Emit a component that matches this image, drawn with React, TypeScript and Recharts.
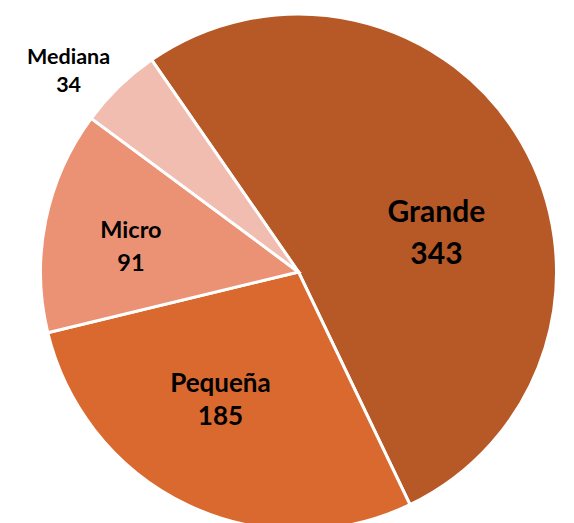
import { PieChart, Pie, Cell } from 'recharts';

const categories = ['Grande', 'Pequeña', 'Micro', 'Mediana'];
const values = [343, 185, 91, 34];
const colors = ['#B75927', '#D9692F', '#EC9274', '#F2BDB1'];
// label placement: polar position of the label block (px from center, deg), font size, line gap
const labelRadius = [143.5, 149, 169.5, 306];
const labelAngle = [16.0, -121.6, 171.3, 138.7];
const labelFont = [30, 26, 23.5, 21.5];
const labelGap = [41.5, 33.5, 33, 28];

const data = categories.map((name, i) => ({ name, value: values[i] }));

const RAD = Math.PI / 180;

const renderLabel = (props: any) => {
  const { cx, cy, index } = props;
  const r = labelRadius[index];
  const a = labelAngle[index] * RAD;
  const x = cx + r * Math.cos(a);
  const y = cy - r * Math.sin(a);
  const fs = labelFont[index];
  const gap = labelGap[index];
  const cap = fs * 0.72;
  const b1 = y - gap / 2 + cap / 2;
  return (
    <text
      textAnchor="middle"
      fontFamily="Lato, 'Open Sans', sans-serif"
      fontWeight={700}
      fontSize={fs}
      fill="#000"
    >
      <tspan x={x} y={b1}>{categories[index]}</tspan>
      <tspan x={x} y={b1 + gap}>{values[index]}</tspan>
    </text>
  );
};

export default function App() {
  return (
    <div style={{ position: 'absolute', left: 0, top: 0, width: 574, height: 523, background: '#fff' }}>
      <PieChart width={574} height={523} margin={{ top: 0, right: 0, bottom: 0, left: 0 }}>
        <Pie
          data={data}
          dataKey="value"
          cx={298.5}
          cy={272}
          outerRadius={258}
          startAngle={124.7}
          endAngle={124.7 - 360}
          stroke="#fff"
          strokeWidth={3}
          label={renderLabel}
          labelLine={false}
          isAnimationActive={false}
        >
          {data.map((d, i) => (
            <Cell key={d.name} fill={colors[i]} />
          ))}
        </Pie>
      </PieChart>
    </div>
  );
}
